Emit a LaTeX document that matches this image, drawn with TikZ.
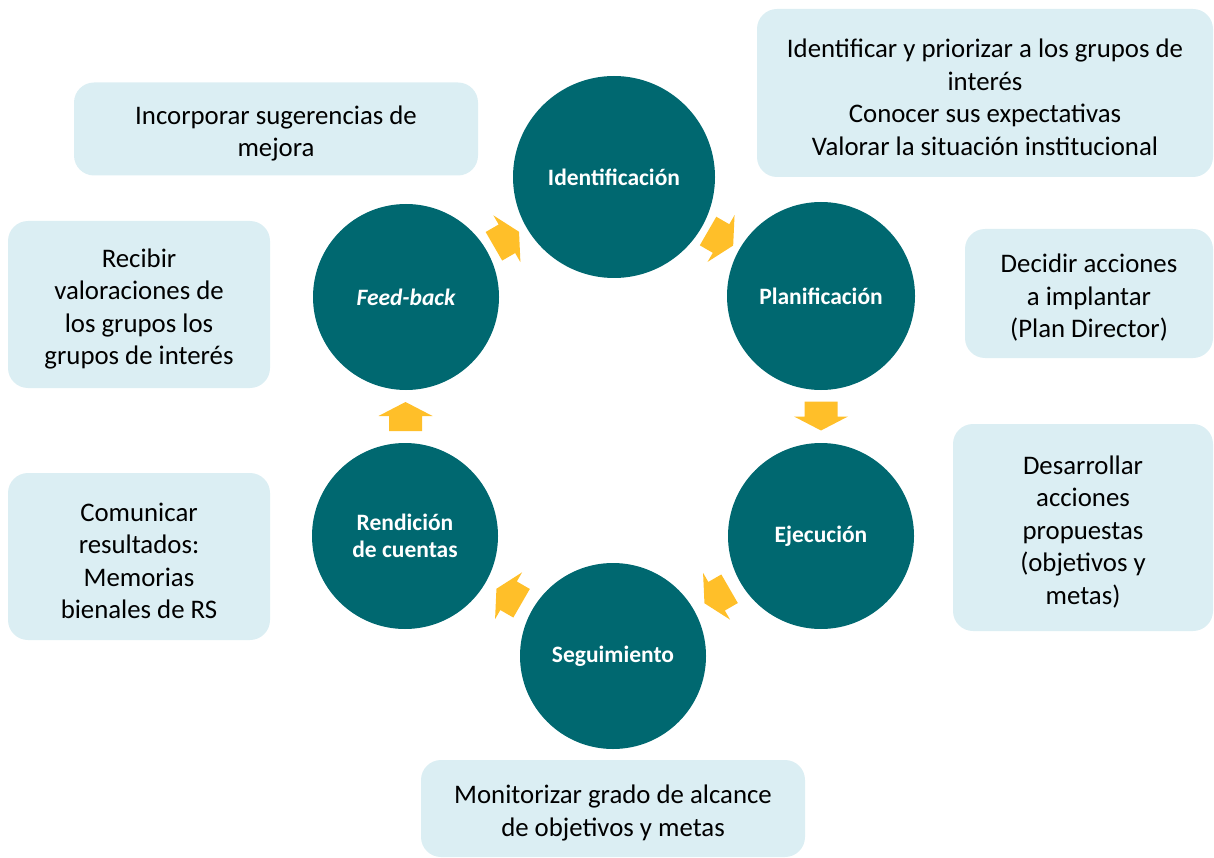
\documentclass[tikz,border=0pt]{standalone}
\usepackage{fontspec}
\setmainfont{Carlito}
\usetikzlibrary{calc}
\definecolor{teal}{RGB}{0,104,112}
\definecolor{boxfill}{RGB}{219,238,243}
\definecolor{arrowc}{RGB}{255,191,41}
\tikzset{
  stage/.style={circle, fill=teal, text=white, minimum size=186pt, inner sep=0pt, align=center,
    font=\fontsize{23.5}{27}\selectfont\bfseries},
  infobox/.style={fill=boxfill, rounded corners=20pt, inner sep=0pt},
  infotext/.style={inner sep=0pt, align=center, font=\fontsize{26.8}{32.5}\selectfont, text=black},
  blk/.style={fill=arrowc}
}
\newcommand\blockarrow[2]{%
  \fill[blk, shift={(#1)}, rotate=#2] (-14.5,-16.5) -- (0.5,-16.5) -- (0.5,-27) -- (14.5,0)
    -- (0.5,27) -- (0.5,16.5) -- (-14.5,16.5) -- cycle;}
\newcommand\infonode[6]{% name, x, y, w, h, text
  \node[infobox, minimum width=#4pt, minimum height=#5pt] (#1) at (#2,#3) {};
  \node[infotext] (#1t) at ([yshift=-4.5pt]#1.center) {#6};}
\begin{document}
\begin{tikzpicture}[x=1pt,y=-1pt]
\useasboundingbox (0,0) rectangle (1214,858);
% circles
\node[stage, minimum size=202pt] (id) at (614,177) {Identificación};
\node[stage, minimum size=188pt] (pl) at (821,296) {Planificación};
\node[stage] (ej) at (821,536) {Ejecución};
\node[stage] (sg) at (613,656) {Seguimiento};
\node[stage] (re) at (405,536) {Rendición\\de cuentas};
\node[stage] (fb) at (406,297) {\itshape Feed-back};
% block arrows
\blockarrow{$(fb)!0.483!(id)$}{30}
\blockarrow{$(id)!0.515!(pl)$}{-30}
\blockarrow{$(pl)!0.5!(ej)$}{-90}
\blockarrow{$(ej)!0.5!(sg)$}{-150}
\blockarrow{$(sg)!0.5!(re)$}{150}
\blockarrow{$(re)!0.5!(fb)$}{90}
% boxes
\infonode{b1}{276}{129}{404}{93}{Incorporar sugerencias de\\mejora}
\infonode{b2}{985}{93}{456}{168}{Identificar y priorizar a los grupos de\\interés\\Conocer sus expectativas\\Valorar la situación institucional}
\infonode{b3}{1089}{293.5}{248}{129}{Decidir acciones\\a implantar\\(Plan Director)}
\infonode{b4}{1083}{527.5}{260}{207}{Desarrollar\\acciones\\propuestas\\(objetivos y\\metas)}
\infonode{b5}{613}{808.5}{384}{97}{Monitorizar grado de alcance\\de objetivos y metas}
\infonode{b6}{139}{556.5}{262}{167}{Comunicar\\resultados:\\Memorias\\bienales de RS}
\infonode{b7}{139}{304.5}{262}{167}{Recibir\\valoraciones de\\los grupos los\\grupos de interés}
\end{tikzpicture}
\end{document}
